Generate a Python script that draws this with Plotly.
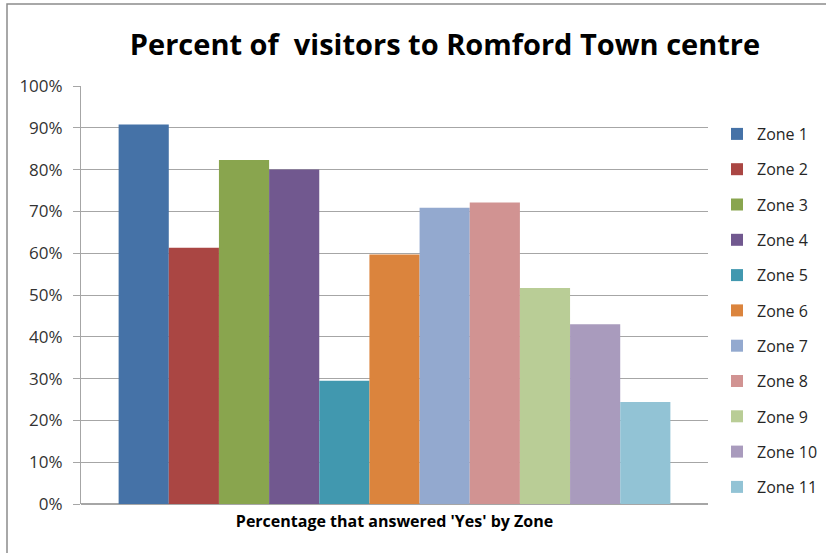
import plotly.graph_objects as go

zones = ["Zone 1", "Zone 2", "Zone 3", "Zone 4", "Zone 5", "Zone 6",
         "Zone 7", "Zone 8", "Zone 9", "Zone 10", "Zone 11"]
values = [0.908, 0.613, 0.823, 0.800, 0.295, 0.597, 0.709, 0.721, 0.517, 0.430, 0.244]
colors = ["#4572A7", "#AA4643", "#89A54E", "#71588F", "#4198AF", "#DB843D",
          "#93A9CF", "#D19392", "#B9CD96", "#A99BBD", "#92C3D5"]
category = [""]

W, H = 826, 553
L, R, T, B = 81, 118, 86, 49
pw, ph = W - L - R, H - T - B

fig = go.Figure()
for z, v, c in zip(zones, values, colors):
    fig.add_trace(go.Bar(
        x=category, y=[v], name=z, marker=dict(color=c, line=dict(width=0)),
        legendgroup=z, hoverinfo="skip",
    ))

def px_x(px):
    return (px - L) / pw

def px_y(py):
    return (H - B - py) / ph

fig.update_layout(
    width=W, height=H,
    margin=dict(l=L, r=R, t=T, b=B, autoexpand=False),
    paper_bgcolor="white", plot_bgcolor="white",
    barmode="group", bargap=0.12, bargroupgap=0,
    font=dict(family="Open Sans, Liberation Sans, sans-serif", size=14, color="#262626"),
    title=dict(text="<b>Percent of&nbsp; visitors to Romford Town centre</b>",
               x=445 / W, xanchor="center", y=1 - 45 / H, yanchor="middle",
               font=dict(size=29, color="black")),
    xaxis=dict(showticklabels=False, showgrid=False, showline=False, ticks="",
               title=dict(text="<b>Percentage that answered 'Yes' by Zone</b>",
                          font=dict(size=16, color="black"), standoff=11)),
    yaxis=dict(range=[0, 1], dtick=0.1, tickformat=".0%",
               showgrid=True, gridcolor="#A6A6A6", gridwidth=1,
               showline=True, linecolor="#A6A6A6", linewidth=1,
               ticks="outside", ticklen=7, tickcolor="#A6A6A6",
               ticklabelstandoff=7,
               zeroline=True, zerolinecolor="#A6A6A6",
               tickfont=dict(size=17, color="#333333")),
    legend=dict(x=px_x(717), xanchor="left", y=px_y(117), yanchor="top",
                tracegroupgap=11.5, font=dict(size=16, color="#262626"),
                bgcolor="rgba(0,0,0,0)"),
    shapes=[dict(type="rect", xref="paper", yref="paper",
                 x0=px_x(7), x1=px_x(900), y0=px_y(4), y1=px_y(700),
                 line=dict(color="#8C8C8C", width=1.5), layer="below")],
)

fig.write_html("out.html", config={"displayModeBar": False},
               post_script="document.body.style.margin='0';")
